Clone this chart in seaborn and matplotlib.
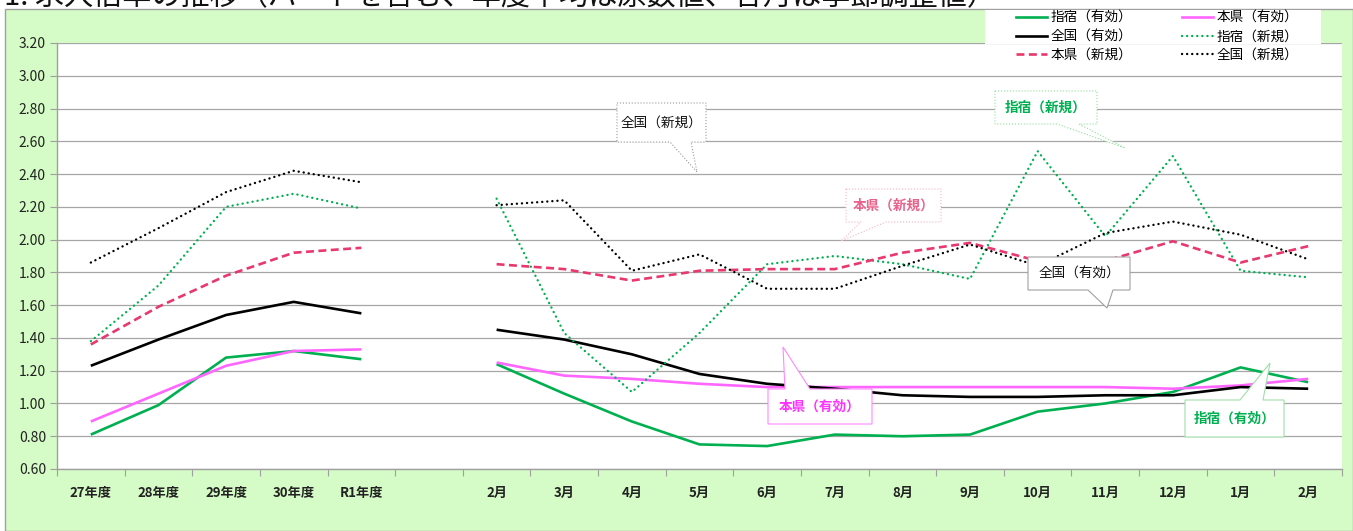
import matplotlib
matplotlib.use("Agg")
import matplotlib.pyplot as plt
from matplotlib.patches import Polygon, Rectangle
from matplotlib.lines import Line2D
import seaborn as sns
import pandas as pd
import numpy as np

# ---------------- data ----------------
categories = ['27年度', '28年度', '29年度', '30年度', 'R1年度', '',
              '2月', '3月', '4月', '5月', '6月', '7月', '8月', '9月',
              '10月', '11月', '12月', '1月', '2月']
fy_positions = [0, 1, 2, 3, 4]
month_positions = [6, 7, 8, 9, 10, 11, 12, 13, 14, 15, 16, 17, 18]

ibusuki_yuko_fy = [0.81, 0.99, 1.28, 1.32, 1.27]
ibusuki_yuko_m = [1.24, 1.06, 0.89, 0.75, 0.74, 0.81, 0.80, 0.81, 0.95, 1.00, 1.07, 1.22, 1.13]
honken_yuko_fy = [0.89, 1.06, 1.23, 1.32, 1.33]
honken_yuko_m = [1.25, 1.17, 1.15, 1.12, 1.10, 1.10, 1.10, 1.10, 1.10, 1.10, 1.09, 1.11, 1.15]
zenkoku_yuko_fy = [1.23, 1.39, 1.54, 1.62, 1.55]
zenkoku_yuko_m = [1.45, 1.39, 1.30, 1.18, 1.12, 1.09, 1.05, 1.04, 1.04, 1.05, 1.05, 1.10, 1.09]
ibusuki_shinki_fy = [1.38, 1.72, 2.20, 2.28, 2.19]
ibusuki_shinki_m = [2.25, 1.43, 1.07, 1.43, 1.85, 1.90, 1.85, 1.76, 2.54, 2.02, 2.51, 1.81, 1.77]
honken_shinki_fy = [1.36, 1.59, 1.78, 1.92, 1.95]
honken_shinki_m = [1.85, 1.82, 1.75, 1.81, 1.82, 1.82, 1.92, 1.98, 1.87, 1.87, 1.99, 1.86, 1.96]
zenkoku_shinki_fy = [1.86, 2.07, 2.29, 2.42, 2.35]
zenkoku_shinki_m = [2.21, 2.24, 1.81, 1.91, 1.70, 1.70, 1.84, 1.97, 1.84, 2.04, 2.11, 2.03, 1.88]

series_names = ['指宿（有効）', '本県（有効）', '全国（有効）', '指宿（新規）', '本県（新規）', '全国（新規）']
series_fy = [ibusuki_yuko_fy, honken_yuko_fy, zenkoku_yuko_fy,
             ibusuki_shinki_fy, honken_shinki_fy, zenkoku_shinki_fy]
series_m = [ibusuki_yuko_m, honken_yuko_m, zenkoku_yuko_m,
            ibusuki_shinki_m, honken_shinki_m, zenkoku_shinki_m]

y_ticks = [0.60, 0.80, 1.00, 1.20, 1.40, 1.60, 1.80, 2.00, 2.20, 2.40, 2.60, 2.80, 3.00, 3.20]

# ---------------- styles ----------------
GREEN = '#00B050'
MAGENTA = '#FF66FF'
BLACK = '#000000'
PINK = '#E8386D'
DOT = (0, (0.05, 2.1))
styles = {
    '指宿（有効）': dict(color=GREEN, lw=1.9, ls='-', cap='butt'),
    '本県（有効）': dict(color=MAGENTA, lw=1.9, ls='-', cap='butt'),
    '全国（有効）': dict(color=BLACK, lw=1.9, ls='-', cap='butt'),
    '指宿（新規）': dict(color=GREEN, lw=1.7, ls=DOT, cap='round'),
    '本県（新規）': dict(color=PINK, lw=1.9, ls=(0, (3.0, 1.7)), cap='butt'),
    '全国（新規）': dict(color=BLACK, lw=1.7, ls=DOT, cap='round'),
}

rows = []
for name, fy, m in zip(series_names, series_fy, series_m):
    for p, v in zip(fy_positions, fy):
        rows.append((name, 'fy', p, v))
    for p, v in zip(month_positions, m):
        rows.append((name, 'm', p, v))
df = pd.DataFrame(rows, columns=['series', 'seg', 'pos', 'val'])

W, H = 1353, 531
plt.rcParams['font.family'] = ['Noto Sans CJK JP', 'DejaVu Sans']
fig = plt.figure(figsize=(W / 100, H / 100), dpi=100, facecolor='white')


def px(x, y):
    return (x / W, 1 - y / H)


# background panel
bg = Rectangle(px(5, H), (W - 5) / W, (H - 9) / H, transform=fig.transFigure,
               facecolor='#D5FBC6', edgecolor='#A0A0A0', lw=1.0, zorder=-10)
fig.add_artist(bg)

# truncated title (only its lower part is visible, as in the reference)
fig.text(4 / W, 1 - 4 / H, '1. 求人倍率の推移（パートを含む、年度平均は原数値、各月は季節調整値）',
         fontsize=21, va='baseline', ha='left', color='#111111', zorder=-20)

L, R, T, B = 57, 1342, 43, 469
ax = fig.add_axes([L / W, 1 - B / H, (R - L) / W, (B - T) / H])
ax.set_facecolor('white')

for name in series_names:
    st = styles[name]
    sub = df[df['series'] == name]
    sns.lineplot(data=sub, x='pos', y='val', units='seg', estimator=None, ax=ax,
                 color=st['color'], linewidth=st['lw'], linestyle=st['ls'],
                 dash_capstyle=st['cap'], solid_capstyle='butt', legend=False, zorder=3)

ax.set_xlim(-0.5, len(categories) - 0.5)
ax.set_ylim(0.60, 3.20)
ax.set_yticks(y_ticks)
ax.set_yticklabels([f'{v:.2f}' for v in y_ticks], fontsize=10, color='#222222')
ax.set_xticks(np.arange(-0.5, len(categories), 1.0))
ax.set_xticklabels([])
ax.set_xticks(np.arange(len(categories)), minor=True)
ax.set_xticklabels(categories, minor=True, fontsize=9.5, fontweight='bold', color='#222222')
ax.tick_params(axis='x', which='major', length=5, color='#A0A0A0', direction='out')
ax.tick_params(axis='x', which='minor', length=0, pad=12)
ax.tick_params(axis='y', length=5, color='#A0A0A0', direction='out', pad=3)
ax.set_xlabel('')
ax.set_ylabel('')
ax.grid(axis='y', color='#A6A6A6', lw=0.9)
ax.grid(axis='x', visible=False)
ax.set_axisbelow(True)
for s in ['top', 'right']:
    ax.spines[s].set_visible(False)
for s in ['left', 'bottom']:
    ax.spines[s].set_color('#A0A0A0')
    ax.spines[s].set_linewidth(1.0)

# legend box + legend
lbox = Rectangle(px(985, 44), (1321 - 985) / W, 34 / H, transform=fig.transFigure,
                 facecolor='white', edgecolor='none', zorder=15)
fig.add_artist(lbox)
order = ['指宿（有効）', '全国（有効）', '本県（新規）', '本県（有効）', '指宿（新規）', '全国（新規）']
handles = []
for name in order:
    st = styles[name]
    handles.append(Line2D([], [], color=st['color'], lw=st['lw'], ls=st['ls'],
                          dash_capstyle=st['cap']))
leg = fig.legend(handles, order, ncol=2, loc='upper left', bbox_to_anchor=px(1012, 7),
                 frameon=False, fontsize=9.8, handlelength=2.3, handletextpad=0.25,
                 columnspacing=3.6, labelspacing=0.33, borderpad=0.3, borderaxespad=0)
leg.set_zorder(20)


# callouts
def callout(box, base, tip, text, edge, ls, tcolor, weight, fs=9.8):
    x0, y0, x1, y1 = box
    bx0, bx1, by = base
    if by == y1:
        pts = [(x0, y0), (x1, y0), (x1, y1), (bx1, y1), tip, (bx0, y1), (x0, y1)]
    else:
        pts = [(x0, y0), (bx0, y0), tip, (bx1, y0), (x1, y0), (x1, y1), (x0, y1)]
    poly = Polygon([px(*p) for p in pts], closed=True, transform=fig.transFigure,
                   facecolor='white', edgecolor=edge, lw=0.8, ls=ls, zorder=10)
    fig.add_artist(poly)
    fig.text(*px((x0 + x1) / 2, (y0 + y1) / 2), text, ha='center', va='center',
             fontsize=fs, color=tcolor, fontweight=weight, zorder=11)


callout((617, 103, 706, 142), (670, 691, 142), (697, 172), '全国（新規）',
        '#9A9A9A', ':', '#111111', 'normal')
callout((995, 91, 1097, 124), (1057, 1079, 124), (1125, 148), '指宿（新規）',
        '#8FE09A', ':', GREEN, 'bold')
callout((846, 189, 941, 222), (861, 886, 222), (841, 241), '本県（新規）',
        '#F6B2C8', ':', '#E8628C', 'bold')
callout((1028, 257, 1130, 290), (1088, 1113, 290), (1107, 308), '全国（有効）',
        '#A0A0A0', '-', '#111111', 'normal')
callout((768, 389, 872, 424), (785, 810, 389), (783, 347), '本県（有効）',
        '#FF88FF', '-', '#FF33FF', 'bold')
callout((1185, 400, 1284, 437), (1240, 1263, 400), (1270, 363), '指宿（有効）',
        '#9EE0A8', '-', GREEN, 'bold')

fig.savefig('out.png', dpi=100, facecolor='white')
